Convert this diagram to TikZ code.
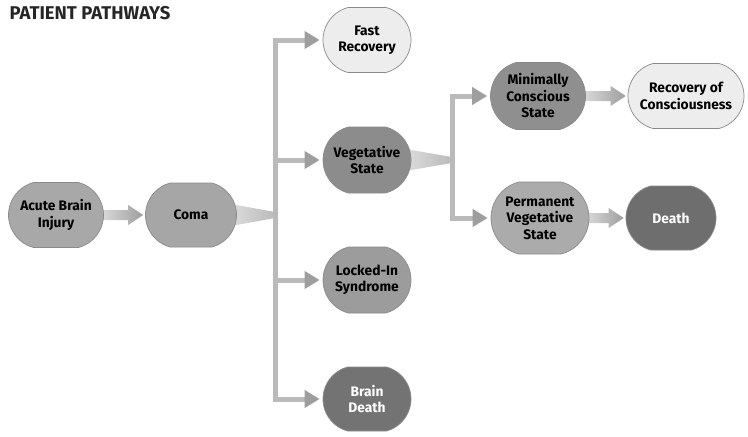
\documentclass[tikz,border=0pt]{standalone}
\usepackage{fontspec}
\setmainfont{Fira Sans}
\usetikzlibrary{arrows.meta,calc,shapes.misc,backgrounds}
\definecolor{cLight}{HTML}{EDEDED}
\definecolor{cLine}{HTML}{BABABA}
\definecolor{cHead}{HTML}{9E9E9E}
\definecolor{cFade}{HTML}{DCDCDC}
\definecolor{cBorder}{HTML}{8A8A8A}
\newcommand{\fadearrow}[2]{%
  \shade[left color=cFade, right color=cHead]
   ($(#1.east)+(-4,-5)$) -- ($(#1.east -| #2.west)+(-17,-5)$) --
   ($(#1.east -| #2.west)+(-17,-10)$) -- ($(#1.east -| #2.west)+(-2,0)$) --
   ($(#1.east -| #2.west)+(-17,10)$) -- ($(#1.east -| #2.west)+(-17,5)$) --
   ($(#1.east)+(-4,5)$) -- cycle;}
\begin{document}
\begin{tikzpicture}[x=1pt,y=-1pt,
  pnode/.style={rounded rectangle, rounded rectangle arc length=150,
    minimum width=92pt, minimum height=65pt,
    align=center, inner sep=1pt, draw=cBorder, line width=0.7pt,
    font=\bfseries\fontsize{13.8}{16.5}\selectfont},
  whitetext/.style={text=white},
  busline/.style={line width=5pt, draw=cLine, line cap=rect},
  busarrow/.style={line width=5pt, draw=cLine,
    -{Triangle[length=15pt,width=17pt,color=cHead]}, shorten >=3pt}]
\useasboundingbox (0,0) rectangle (748,437);
\node[anchor=west, font=\bfseries\fontsize{18.5}{20}\selectfont, text=black!85] (title) at (6,13) {PATIENT PATHWAYS};

% nodes
\node[pnode, minimum width=97pt, fill=black!34] (acute) at (56,215) {Acute Brain\\Injury};
\node[pnode, minimum width=93pt, minimum height=64pt, fill=black!35] (coma) at (191,215) {Coma};
\node[pnode, minimum width=90pt, fill=cLight] (fast) at (367,40) {Fast\\Recovery};
\node[pnode, minimum width=90pt, minimum height=66pt, fill=black!45] (veg) at (367,160) {Vegetative\\State};
\node[pnode, minimum width=90pt, minimum height=66pt, fill=black!39] (locked) at (367,280) {Locked-In\\Syndrome};
\node[pnode, minimum width=90pt, minimum height=64pt, fill=black!55, whitetext] (bd) at (367,399) {Brain\\Death};
\node[pnode, minimum width=97pt, minimum height=67pt, fill=black!44] (mcs) at (538,96) {Minimally\\Conscious\\State};
\node[pnode, minimum width=118pt, fill=cLight] (rec) at (686,96) {Recovery of\\Consciousness};
\node[pnode, minimum width=100pt, minimum height=72pt, fill=black!33] (pvs) at (540,218) {Permanent\\Vegetative\\State};
\node[pnode, minimum width=92pt, minimum height=64pt, fill=black!57, whitetext] (death) at (671,218) {Death};

% bus coordinates
\coordinate (bus1) at (275,215);
\coordinate (bus2) at (452,160);

\begin{pgfonlayer}{background}
% tapered connectors
\shade[left color=cFade, right color=cLine]
  ($(coma.east)+(-6,-11)$) -- ($(coma.east -| bus1)+(0,-3)$) --
  ($(coma.east -| bus1)+(0,3)$) -- ($(coma.east)+(-6,11)$) -- cycle;
\shade[left color=cFade, right color=cLine]
  ($(veg.east)+(-6,-11)$) -- ($(veg.east -| bus2)+(0,-3)$) --
  ($(veg.east -| bus2)+(0,3)$) -- ($(veg.east)+(-6,11)$) -- cycle;

% first bus
\draw[busline] (bus1 |- fast.west) -- (bus1 |- bd.west);
\draw[busarrow] (bus1 |- fast.west) -- (fast.west);
\draw[busarrow] (bus1 |- veg.west) -- (veg.west);
\draw[busarrow] (bus1 |- locked.west) -- (locked.west);
\draw[busarrow] (bus1 |- bd.west) -- (bd.west);

% second bus
\draw[busline] (bus2 |- mcs.west) -- (bus2 |- pvs.west);
\draw[busarrow] (bus2 |- mcs.west) -- (mcs.west);
\draw[busarrow] (bus2 |- pvs.west) -- (pvs.west);

% fading arrows between nodes
\fadearrow{acute}{coma}
\fadearrow{mcs}{rec}
\fadearrow{pvs}{death}
\end{pgfonlayer}
\end{tikzpicture}
\end{document}
